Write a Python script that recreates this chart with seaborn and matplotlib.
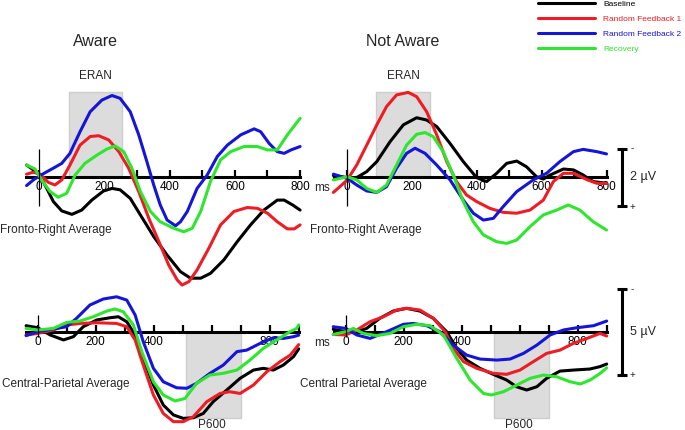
import numpy as np
import pandas as pd
import matplotlib
matplotlib.use('Agg')
import matplotlib.pyplot as plt
from matplotlib.lines import Line2D
import seaborn as sns

# ---------------- data ----------------
CONDITIONS = ['Baseline', 'Random Feedback 1', 'Random Feedback 2', 'Recovery']
COLORS = ['#000000', '#ee1c24', '#1515d8', '#2ee62e']

ERAN_WINDOW = [90, 255]      # ms
ERAN_EXTENT = -3.0           # uV (negative up)
P600_WINDOW = [510, 700]     # ms
P600_EXTENT = 5.0            # uV

# Aware, Fronto-Right Average (top-left)
tl_base_ms = [-39, -13, 0, 23, 43, 69, 100, 130, 161, 197, 223, 248, 279, 310, 351, 392, 433, 464, 495, 525, 566, 607, 648, 689, 730, 751, 777, 800]
tl_base_uv = [-0.43, -0.22, -0.11, 0.39, 0.85, 1.18, 1.30, 1.15, 0.80, 0.48, 0.39, 0.44, 0.74, 1.32, 2.08, 2.73, 3.31, 3.54, 3.54, 3.37, 2.90, 2.26, 1.67, 1.15, 0.80, 0.80, 0.97, 1.15]
tl_rf1_ms = [-39, -18, 2, 28, 48, 69, 94, 125, 156, 182, 213, 244, 274, 305, 336, 367, 397, 423, 438, 459, 484, 520, 556, 597, 638, 669, 700, 730, 761, 782, 800]
tl_rf1_uv = [-0.11, -0.18, -0.11, 0.18, 0.27, 0.09, -0.43, -1.13, -1.43, -1.46, -1.31, -0.9, -0.32, 0.50, 1.44, 2.26, 3.08, 3.60, 3.78, 3.66, 3.25, 2.49, 1.67, 1.20, 1.06, 1.09, 1.26, 1.56, 1.81, 1.81, 1.67]
tl_rf2_ms = [-39, -18, 2, 43, 69, 94, 125, 156, 192, 223, 248, 279, 305, 330, 351, 371, 392, 418, 433, 454, 484, 515, 546, 577, 618, 659, 679, 705, 730, 751, 772, 800]
tl_rf2_uv = [0.29, 0.09, -0.06, -0.32, -0.49, -0.84, -1.6, -2.30, -2.71, -2.87, -2.77, -2.30, -1.49, -0.55, 0.27, 0.97, 1.50, 1.70, 1.56, 1.20, 0.39, -0.08, -0.73, -1.13, -1.49, -1.70, -1.60, -1.19, -0.90, -0.84, -0.96, -1.08]
tl_rec_ms = [-39, -13, 7, 33, 58, 84, 110, 140, 177, 207, 233, 259, 284, 310, 341, 371, 413, 443, 469, 495, 525, 556, 587, 628, 669, 700, 730, 761, 800]
tl_rec_uv = [-0.43, -0.29, 0.09, 0.5, 0.70, 0.56, -0.08, -0.49, -0.78, -0.99, -1.10, -0.90, -0.32, 0.50, 1.20, 1.56, 1.79, 1.91, 1.79, 1.20, 0.15, -0.61, -0.90, -1.08, -1.08, -0.96, -0.96, -1.49, -2.07]

# Not Aware, Fronto-Right Average (top-right)
tr_base_ms = [-43, 0, 29, 60, 91, 132, 173, 214, 245, 276, 317, 358, 399, 430, 461, 492, 523, 553, 584, 605, 626, 667, 698, 728, 759, 800]
tr_base_uv = [-0.06, 0.01, 0.01, -0.2, -0.55, -1.25, -1.84, -2.09, -2.01, -1.78, -1.19, -0.55, 0.01, 0.15, -0.14, -0.49, -0.57, -0.37, -0.02, 0.06, -0.08, -0.29, -0.26, -0.08, 0.15, 0.21]
tr_rf1_ms = [-43, -23, 0, 29, 60, 91, 121, 152, 188, 214, 245, 276, 307, 337, 368, 399, 440, 481, 523, 564, 605, 636, 667, 698, 741, 770, 800]
tr_rf1_uv = [0.53, 0.33, 0.09, -0.43, -1.13, -1.84, -2.48, -2.89, -2.98, -2.83, -2.30, -1.49, -0.55, 0.15, 0.62, 0.85, 1.09, 1.23, 1.26, 1.15, 0.80, 0.15, -0.14, -0.14, 0.09, 0.21, 0.21]
tr_rf2_ms = [-43, 0, 29, 60, 91, 121, 152, 183, 209, 240, 276, 317, 358, 389, 420, 451, 481, 523, 574, 615, 656, 698, 728, 770, 800]
tr_rf2_uv = [-0.11, 0.04, 0.27, 0.48, 0.53, 0.33, -0.32, -0.84, -1.02, -0.84, -0.43, 0.09, 0.80, 1.26, 1.50, 1.44, 1.03, 0.50, 0.09, -0.14, -0.55, -0.90, -0.98, -0.90, -0.82]
tr_rec_ms = [-43, 0, 29, 60, 91, 121, 152, 183, 214, 240, 265, 296, 327, 358, 389, 420, 461, 492, 523, 564, 605, 646, 682, 718, 759, 800]
tr_rec_uv = [0.09, -0.02, 0.09, 0.39, 0.53, 0.27, -0.43, -1.13, -1.51, -1.57, -1.43, -0.90, -0.08, 0.85, 1.56, 2.02, 2.26, 2.32, 2.20, 1.73, 1.32, 1.15, 0.97, 1.15, 1.56, 1.85]

# Aware, Central-Parietal Average (bottom-left)
bl_base_ms = [-40, 0, 43, 89, 123, 157, 203, 249, 278, 307, 336, 364, 399, 433, 468, 502, 537, 571, 605, 652, 698, 744, 778, 813, 847, 882, 900]
bl_base_uv = [-0.35, -0.23, 0.19, 0.48, 0.29, -0.29, -0.68, -0.81, -0.87, -0.58, 0.19, 1.55, 3.10, 4.26, 4.84, 5.04, 5.00, 4.75, 4.07, 3.39, 2.71, 2.23, 2.13, 2.23, 1.94, 1.45, 1.0]
bl_rf1_ms = [-40, 0, 54, 100, 146, 203, 272, 307, 336, 364, 399, 433, 468, 502, 537, 583, 629, 662, 698, 744, 790, 836, 871, 900]
bl_rf1_uv = [0.19, 0.1, -0.1, -0.39, -0.48, -0.52, -0.48, -0.29, 0.48, 1.94, 3.68, 4.75, 5.23, 5.23, 4.94, 4.07, 3.59, 3.49, 3.59, 3.10, 2.33, 1.74, 1.36, 0.75]
bl_rf2_ms = [-40, 0, 54, 100, 134, 180, 226, 272, 307, 336, 364, 399, 433, 479, 514, 548, 594, 640, 687, 721, 767, 813, 847, 882, 900]
bl_rf2_uv = [0.23, 0.0, -0.16, -0.29, -0.78, -1.55, -1.90, -2.03, -1.84, -0.97, 0.58, 2.13, 2.91, 3.26, 3.29, 3.00, 2.42, 1.94, 1.16, 1.07, 0.68, 0.35, 0.39, 0.29, 0.2]
bl_rec_ms = [-40, 0, 54, 100, 146, 192, 238, 266, 295, 330, 359, 399, 433, 474, 508, 548, 594, 640, 687, 732, 778, 824, 870, 893, 900]
bl_rec_uv = [-0.19, -0.1, -0.19, -0.54, -0.62, -0.87, -1.20, -1.32, -1.16, -0.39, 1.16, 2.91, 3.68, 4.03, 3.88, 3.00, 2.52, 2.42, 2.23, 1.65, 0.97, 0.48, 0.0, -0.19, -0.4]

# Not Aware, Central Parietal Average (bottom-right)
br_base_ms = [-43, 0, 38, 72, 118, 164, 210, 256, 302, 348, 383, 417, 463, 509, 555, 589, 624, 659, 693, 739, 785, 842, 877, 900]
br_base_uv = [-0.14, 0.0, 0.0, -0.19, -0.78, -1.20, -1.36, -1.20, -0.78, 0.0, 0.97, 1.65, 2.13, 2.48, 2.81, 3.20, 3.39, 3.20, 2.71, 2.29, 2.23, 2.17, 2.03, 1.88]
br_rf1_ms = [-43, 0, 38, 84, 130, 176, 210, 256, 302, 343, 371, 406, 452, 509, 555, 601, 647, 693, 739, 785, 832, 877, 900]
br_rf1_uv = [0.16, 0.19, -0.10, -0.58, -0.87, -1.26, -1.36, -1.26, -0.78, 0.0, 0.97, 1.74, 2.13, 2.42, 2.48, 2.23, 1.74, 1.26, 1.07, 0.68, 0.39, 0.10, 0.25]
br_rf2_ms = [-43, 0, 38, 84, 141, 199, 233, 279, 325, 371, 417, 463, 521, 567, 613, 659, 705, 751, 797, 855, 900]
br_rf2_uv = [-0.29, -0.19, 0.19, 0.39, 0.0, -0.43, -0.48, -0.35, 0.0, 0.78, 1.36, 1.59, 1.65, 1.59, 1.26, 0.78, 0.19, -0.1, -0.23, -0.35, -0.62]
br_rec_ms = [-43, 0, 26, 61, 107, 153, 199, 245, 291, 337, 383, 429, 475, 503, 544, 590, 636, 682, 728, 774, 809, 843, 878, 900]
br_rec_uv = [0.16, 0.0, -0.19, 0.10, 0.23, 0.10, -0.29, -0.43, -0.35, 0.19, 1.55, 2.81, 3.59, 3.68, 3.49, 3.10, 2.71, 2.52, 2.62, 2.91, 3.04, 2.81, 2.42, 2.1]

TOP_TICK_LABELS = [0, 200, 400, 600, 800]
BOTTOM_TICK_LABELS = [0, 200, 400, 600, 800]

# ---------------- style ----------------
sns.set_style('white')
plt.rcParams['font.family'] = ['Liberation Sans', 'DejaVu Sans']

W, H = 685, 430
fig = plt.figure(figsize=(W / 100, H / 100), dpi=100)


def px_axes(x0, sx, y0, sy, left, right, top, bottom):
    ax = fig.add_axes([left / W, 1 - bottom / H, (right - left) / W, (bottom - top) / H])
    ax.set_xlim((left - x0) / sx, (right - x0) / sx)
    ax.set_ylim((bottom - y0) / sy, (top - y0) / sy)
    ax.patch.set_alpha(0)
    return ax


def ftext(x, y, s, **kw):
    fig.text(x / W, 1 - y / H, s, **kw)


def panel_df(series):
    frames = []
    for cond, (t, v) in zip(CONDITIONS, series):
        frames.append(pd.DataFrame({'ms': t, 'uv': v, 'condition': cond}))
    return pd.concat(frames, ignore_index=True)


def draw_panel(ax, series, xmax, labels, win, extent, vline):
    ax.fill_between(win, 0, extent, color='#dcdcdc', edgecolor='#cdcdcd', linewidth=1.0, zorder=1)
    df = panel_df(series)
    sns.lineplot(data=df, x='ms', y='uv', hue='condition', hue_order=CONDITIONS,
                 palette=COLORS, estimator=None, sort=False, linewidth=2.2,
                 legend=False, ax=ax)
    for ln in ax.lines:
        ln.set_zorder(3)
        ln.set_solid_joinstyle('round')
        ln.set_solid_capstyle('round')
    ax.vlines(0, vline[0], vline[1], color='black', linewidth=0.9, zorder=4)
    for s in ['left', 'right', 'top']:
        ax.spines[s].set_visible(False)
    sp = ax.spines['bottom']
    sp.set_position(('data', 0))
    sp.set_bounds(-40, xmax)
    sp.set_linewidth(2.2)
    sp.set_color('black')
    sp.set_zorder(2.5)
    ticks = list(range(0, xmax + 1, 100))
    ax.set_xticks(ticks)
    ax.set_xticklabels([str(t) if t in labels else '' for t in ticks])
    ax.tick_params(axis='x', direction='in', length=5, width=1.6, pad=3,
                   labelsize=8.5, colors='black', bottom=True)
    ax.set_yticks([])
    ax.set_xlabel('')
    ax.set_ylabel('')


def scale_bar(ax, x, half, cap, label, lx):
    ax.vlines(x, -half, half, color='black', linewidth=2.2, clip_on=False)
    ax.hlines([-half, half], x - cap, x + cap, color='black', linewidth=2.2, clip_on=False)
    ax.text(lx, 0, label, ha='left', va='center', fontsize=9)


# top-left
ax_tl = px_axes(39.3, 0.326, 177.3, 28.5, 15, 318, 80, 300)
draw_panel(ax_tl, [(tl_base_ms, tl_base_uv), (tl_rf1_ms, tl_rf1_uv),
                   (tl_rf2_ms, tl_rf2_uv), (tl_rec_ms, tl_rec_uv)],
           800, TOP_TICK_LABELS, ERAN_WINDOW, ERAN_EXTENT, (-1.0, 1.0))

# top-right
ax_tr = px_axes(347.3, 0.324, 177.3, 28.5, 325, 615, 80, 300)
draw_panel(ax_tr, [(tr_base_ms, tr_base_uv), (tr_rf1_ms, tr_rf1_uv),
                   (tr_rf2_ms, tr_rf2_uv), (tr_rec_ms, tr_rec_uv)],
           800, TOP_TICK_LABELS, ERAN_WINDOW, ERAN_EXTENT, (-1.0, 1.0))
scale_bar(ax_tr, 847, 1.0, 15, '2 \u00b5V', 872)
ftext(632, 148, '-', fontsize=7, ha='center', va='center')
ftext(632, 207, '+', fontsize=7, ha='center', va='center')

# bottom-left
ax_bl = px_axes(37.7, 0.29, 331.7, 17.2, 15, 318, 280, 428)
draw_panel(ax_bl, [(bl_base_ms, bl_base_uv), (bl_rf1_ms, bl_rf1_uv),
                   (bl_rf2_ms, bl_rf2_uv), (bl_rec_ms, bl_rec_uv)],
           900, BOTTOM_TICK_LABELS, P600_WINDOW, P600_EXTENT, (-0.97, 0.3))

# bottom-right
ax_br = px_axes(345.7, 0.29, 331.7, 17.2, 325, 615, 280, 428)
draw_panel(ax_br, [(br_base_ms, br_base_uv), (br_rf1_ms, br_rf1_uv),
                   (br_rf2_ms, br_rf2_uv), (br_rec_ms, br_rec_uv)],
           900, BOTTOM_TICK_LABELS, P600_WINDOW, P600_EXTENT, (-0.97, 0.3))
scale_bar(ax_br, 952, 2.5, 17, '5 \u00b5V', 980)
ftext(632, 289, '-', fontsize=7, ha='center', va='center')
ftext(632, 375, '+', fontsize=7, ha='center', va='center')

# texts
ftext(95, 41, 'Aware', fontsize=11.5, ha='center', va='center')
ftext(403, 41, 'Not Aware', fontsize=11.5, ha='center', va='center')
ftext(95, 76, 'ERAN', fontsize=8.5, ha='center', va='center')
ftext(403, 76, 'ERAN', fontsize=8.5, ha='center', va='center')
ftext(212, 425, 'P600', fontsize=8.5, ha='center', va='center')
ftext(519, 425, 'P600', fontsize=8.5, ha='center', va='center')
ftext(0, 230, 'Fronto-Right Average', fontsize=8.5, ha='left', va='center')
ftext(310, 230, 'Fronto-Right Average', fontsize=8.5, ha='left', va='center')
ftext(2, 384, 'Central-Parietal Average', fontsize=8.5, ha='left', va='center')
ftext(300, 384, 'Central Parietal Average', fontsize=8.5, ha='left', va='center')
ftext(314, 188, 'ms', fontsize=8.5, ha='left', va='center')
ftext(314, 343, 'ms', fontsize=8.5, ha='left', va='center')

# legend
handles = [Line2D([0], [0], color=c, linewidth=2.2) for c in COLORS]
fig.legend(handles, CONDITIONS, loc='upper left', bbox_to_anchor=(538 / W, 1.0),
           frameon=False, fontsize=6.0, handlelength=6.85, handletextpad=0.96,
           labelspacing=0.87, borderpad=0, borderaxespad=0, labelcolor=COLORS)

fig.savefig('out.png', dpi=100)
